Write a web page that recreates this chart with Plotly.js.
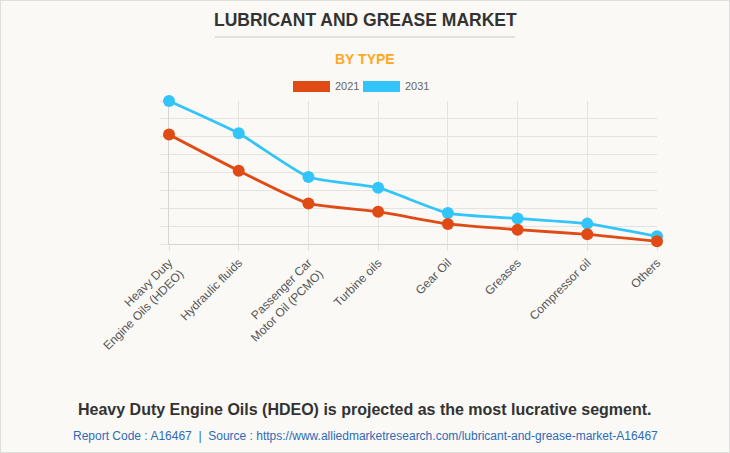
<!DOCTYPE html>
<html>
<head>
<meta charset="utf-8">
<script src="https://cdn.plot.ly/plotly-3.0.1.min.js"></script>
<style>
  html, body { margin: 0; padding: 0; background: #faf9f5; }
  #wrap { width: 728px; height: 451px; border: 1px solid #dedede; background: #faf9f5; }
</style>
</head>
<body>
<div id="wrap"><div id="chart"></div></div>
<script>
// ---- data ----
const categories = [
  "Heavy Duty<br>Engine Oils (HDEO)",
  "Hydraulic fluids",
  "Passenger Car<br>Motor Oil (PCMO)",
  "Turbine oils",
  "Gear Oil",
  "Greases",
  "Compressor oil",
  "Others"
];
const values2021 = [61.2, 41.0, 22.7, 18.1, 11.2, 8.0, 5.4, 1.5];
const values2031 = [80.0, 61.9, 37.5, 31.5, 17.3, 14.3, 11.4, 4.3];
const seriesNames = ["2021", "2031"];
const colors = { "2021": "#e04a15", "2031": "#33c5fa" };

// ---- layout helpers (page pixels -> paper coords) ----
const W = 728, H = 451;
const M = { l: 168, r: 72, t: 100, b: 208 };
const pw = W - M.l - M.r, ph = H - M.t - M.b;
const px = x => (x - 1 - M.l) / pw;
const py = y => (H - M.b - (y - 1)) / ph;

const traces = [
  {
    x: categories, y: values2031, name: seriesNames[1], type: "scatter", mode: "lines+markers",
    line: { color: colors["2031"], width: 2.8, shape: "spline", smoothing: 0.5 },
    marker: { color: colors["2031"], size: 12 },
    cliponaxis: false, showlegend: false
  },
  {
    x: categories, y: values2021, name: seriesNames[0], type: "scatter", mode: "lines+markers",
    line: { color: colors["2021"], width: 2.8, shape: "spline", smoothing: 0.5 },
    marker: { color: colors["2021"], size: 12 },
    cliponaxis: false, showlegend: false
  }
];

const layout = {
  width: W, height: H,
  margin: M,
  paper_bgcolor: "#faf9f5",
  plot_bgcolor: "#faf9f5",
  font: { family: "Liberation Sans, Arial, sans-serif", color: "#555" },
  xaxis: {
    type: "category",
    range: [0, categories.length - 1],
    showgrid: true, gridcolor: "#e4e3df", gridwidth: 1,
    showline: true, linecolor: "#d6d5d1", linewidth: 1,
    ticks: "outside", ticklen: 6, tickcolor: "#e4e3df",
    tickangle: -45,
    tickfont: { size: 12, color: "#555" },
    zeroline: false, fixedrange: true, layer: "below traces"
  },
  yaxis: {
    range: [0, 80], dtick: 10,
    showgrid: true, gridcolor: "#e4e3df", gridwidth: 1,
    showline: true, linecolor: "#d6d5d1", linewidth: 1,
    ticks: "outside", ticklen: 8, tickcolor: "#e4e3df",
    showticklabels: false, zeroline: false, fixedrange: true, layer: "below traces"
  },
  shapes: [
    { type: "line", xref: "paper", yref: "paper", x0: px(215), x1: px(515), y0: py(37), y1: py(37),
      line: { color: "#cccccc", width: 1 } },
    { type: "rect", xref: "paper", yref: "paper", x0: px(293), x1: px(330), y0: py(81), y1: py(92),
      fillcolor: colors["2021"], line: { width: 0 } },
    { type: "rect", xref: "paper", yref: "paper", x0: px(363), x1: px(400), y0: py(81), y1: py(92),
      fillcolor: colors["2031"], line: { width: 0 } }
  ],
  annotations: [
    { text: "LUBRICANT AND GREASE MARKET", xref: "paper", yref: "paper", x: px(365), y: py(20),
      xanchor: "center", yanchor: "middle", showarrow: false,
      font: { size: 17.5, color: "#333", weight: "bold" } },
    { text: "BY TYPE", xref: "paper", yref: "paper", x: px(365), y: py(59),
      xanchor: "center", yanchor: "middle", showarrow: false,
      font: { size: 14, color: "#ffa726", weight: "bold" } },
    { text: seriesNames[0], xref: "paper", yref: "paper", x: px(333), y: py(86.5),
      xanchor: "left", yanchor: "middle", showarrow: false,
      font: { size: 11, color: "#666" } },
    { text: seriesNames[1], xref: "paper", yref: "paper", x: px(403), y: py(86.5),
      xanchor: "left", yanchor: "middle", showarrow: false,
      font: { size: 11, color: "#666" } },
    { text: "Heavy Duty Engine Oils (HDEO) is projected as the most lucrative segment.",
      xref: "paper", yref: "paper", x: px(365), y: py(409),
      xanchor: "center", yanchor: "middle", showarrow: false,
      font: { size: 16, color: "#333", weight: "bold" } },
    { text: "Report Code : A16467  |  Source : https://www.alliedmarketresearch.com/lubricant-and-grease-market-A16467",
      xref: "paper", yref: "paper", x: px(365), y: py(436),
      xanchor: "center", yanchor: "middle", showarrow: false,
      font: { size: 12, color: "#2d6bb8" } }
  ]
};

Plotly.newPlot("chart", traces, layout, { displayModeBar: false, staticPlot: true });
</script>
</body>
</html>
